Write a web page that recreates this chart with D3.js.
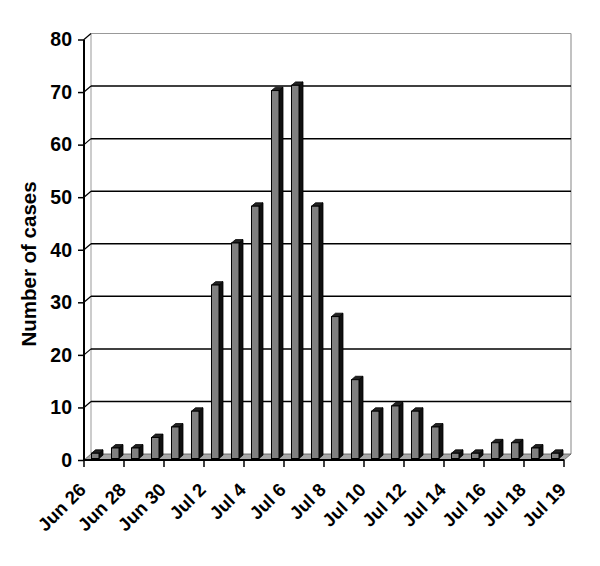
<!DOCTYPE html>
<html><head><meta charset="utf-8">
<script src="https://cdn.jsdelivr.net/npm/d3@7"></script>
<style>body{margin:0;background:#fff}svg{display:block}</style>
</head><body>
<svg id="c" width="600" height="566"></svg>
<script>
const days = ["Jun 26","Jun 27","Jun 28","Jun 29","Jun 30","Jul 1","Jul 2","Jul 3","Jul 4","Jul 5","Jul 6","Jul 7","Jul 8","Jul 9","Jul 10","Jul 11","Jul 12","Jul 13","Jul 14","Jul 15","Jul 16","Jul 17","Jul 18","Jul 19"];
const cases = [1,2,2,4,6,9,33,41,48,70,71,48,27,15,9,10,9,6,1,1,3,3,2,1];
const tickLabels = ["Jun 26","Jun 28","Jun 30","Jul 2","Jul 4","Jul 6","Jul 8","Jul 10","Jul 12","Jul 14","Jul 16","Jul 18","Jul 19"];
const yTicks = [0,10,20,30,40,50,60,70,80];
const yTitle = "Number of cases";

(function(){
const svg = d3.select("#c");
const pLeft = 84, pRight = 564, pBottom = 460, pTop = 39.5;
const DX = 7, DY = -6; // depth offset of back wall
const x = d3.scaleBand().domain(days).range([pLeft, pRight]).padding(0);
const y = d3.scaleLinear().domain([0, 80]).range([pBottom, pTop]);
const font = "'Liberation Sans', Arial, sans-serif";

const g = svg.append("g");
g.append("line").attr("x1", pLeft+DX).attr("x2", pLeft+DX).attr("y1", y(80)+DY).attr("y2", y(0)+DY).attr("stroke", "#999").attr("stroke-width", 1);
g.append("line").attr("x1", pRight+DX).attr("x2", pRight+DX).attr("y1", y(80)+DY).attr("y2", y(0)+DY).attr("stroke", "#999").attr("stroke-width", 1.2);

yTicks.filter(t => t > 0).forEach(t => {
  const col = t === 80 ? "#999" : "#000";
  const w = t === 80 ? 1.2 : 1.5;
  g.append("line").attr("x1", pLeft+DX).attr("x2", pRight+DX).attr("y1", y(t)+DY).attr("y2", y(t)+DY).attr("stroke", col).attr("stroke-width", w);
  g.append("line").attr("x1", pLeft).attr("x2", pLeft+DX).attr("y1", y(t)).attr("y2", y(t)+DY).attr("stroke", "#000").attr("stroke-width", 1.2);
});

g.append("path")
  .attr("d", `M${pLeft},${y(0)} L${pRight},${y(0)} L${pRight+DX},${y(0)+DY} L${pLeft+DX},${y(0)+DY} Z`)
  .attr("fill", "#a8a8a8").attr("stroke", "#555").attr("stroke-width", 0.8);

const fx = 7.5, fw = 7.5, sd = 4, sh = -3.4, fdy = -1.5;
const bars = g.append("g").selectAll("g").data(cases).join("g");
bars.each(function(v, i) {
  const s = d3.select(this);
  const x0 = x(days[i]) + fx, x1 = x0 + fw;
  const yb = y(0) + fdy, yt = y(v) + fdy;
  s.append("path").attr("d", `M${x1},${yb} L${x1+sd},${yb+sh} L${x1+sd},${yt+sh} L${x1},${yt} Z`)
    .attr("fill", "#111").attr("stroke", "#000").attr("stroke-width", 0.8);
  s.append("path").attr("d", `M${x0},${yt} L${x0+sd},${yt+sh} L${x1+sd},${yt+sh} L${x1},${yt} Z`)
    .attr("fill", "#222").attr("stroke", "#000").attr("stroke-width", 0.8);
  s.append("rect").attr("x", x0).attr("y", yt).attr("width", fw).attr("height", yb - yt)
    .attr("fill", "#808080").attr("stroke", "#000").attr("stroke-width", 1);
});

const ya = svg.append("g").attr("transform", `translate(${pLeft},0)`)
  .call(d3.axisLeft(y).tickValues(yTicks).tickSize(6).tickPadding(6));
ya.select(".domain").attr("stroke", "#000").attr("stroke-width", 2).attr("d", `M0,${y(80)}V${y(0)}`);
ya.selectAll(".tick line").attr("stroke", "#000").attr("stroke-width", 1.5);
ya.selectAll(".tick text").attr("font-family", font).attr("font-weight", "bold").attr("font-size", 19.5).attr("fill", "#000");

const xt = d3.scaleLinear().domain([0, tickLabels.length - 1]).range([pLeft, pRight]);
const xa = svg.append("g");
xa.append("line").attr("x1", pLeft).attr("x2", pRight).attr("y1", pBottom).attr("y2", pBottom).attr("stroke", "#000").attr("stroke-width", 2);
tickLabels.forEach((lab, i) => {
  const tx = xt(i);
  xa.append("line").attr("x1", tx).attr("x2", tx).attr("y1", pBottom).attr("y2", pBottom + 7).attr("stroke", "#000").attr("stroke-width", 1.5);
  xa.append("text").attr("transform", `translate(${tx + 3},${pBottom + 31}) rotate(-45)`)
    .attr("text-anchor", "end").attr("font-family", font).attr("font-weight", "bold").attr("font-size", 18.5).attr("fill", "#000").text(lab);
});

svg.append("text").attr("transform", `translate(36,264) rotate(-90)`)
  .attr("text-anchor", "middle").attr("font-family", font).attr("font-weight", "bold").attr("font-size", 20.5).attr("fill", "#000").text(yTitle);
})();
</script>
</body></html>
